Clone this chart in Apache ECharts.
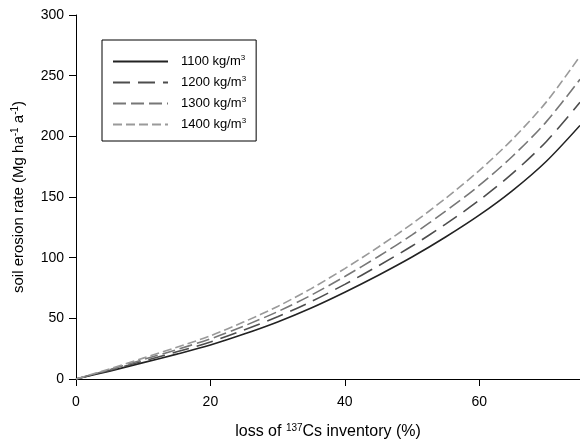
<!DOCTYPE html>
<html>
<head>
<meta charset="utf-8">
<script src="https://cdn.jsdelivr.net/npm/echarts@6/dist/echarts.min.js"></script>
<style>
html,body{margin:0;padding:0;background:#fff;}
#chart{width:580px;height:445px;}
</style>
</head>
<body>
<div id="chart"></div>
<script>
var xValues = [0, 5, 10, 15, 20, 25, 30, 35, 40, 45, 50, 55, 60, 65, 70, 75];
var seriesNames = ['1100 kg/m3', '1200 kg/m3', '1300 kg/m3', '1400 kg/m3'];
var rate1100 = [0, 6.5, 13.5, 20.5, 28, 37, 47, 58.5, 71.5, 85.5, 100.5, 117, 135, 155.5, 179.5, 209];
var rate1200 = [0, 7.1, 14.7, 22.4, 30.5, 40.4, 51.3, 63.8, 78, 93.3, 109.6, 127.6, 147.3, 169.6, 195.8, 228];
var rate1300 = [0, 7.7, 16, 24.2, 33.1, 43.7, 55.5, 69.1, 84.5, 101, 118.8, 138.3, 159.5, 183.8, 212.1, 247];
var rate1400 = [0, 8.3, 17.2, 26.1, 35.6, 47.1, 59.8, 74.5, 91, 108.8, 127.9, 148.9, 171.8, 197.9, 228.4, 266];
var yTicks = [0, 50, 100, 150, 200, 250, 300];
var xTicks = [0, 20, 40, 60];

var allRates = [rate1100, rate1200, rate1300, rate1400];
var colors = ['#222222', '#4d4d4d', '#777777', '#9a9a9a'];
var dashes = ['solid', [17, 8], [13, 5], [9, 4]];
var FONT = 'Liberation Sans, Arial, sans-serif';

function pairs(vals) {
  return xValues.map(function (x, i) { return [x, vals[i]]; });
}

var series = seriesNames.map(function (n, k) {
  return {
    name: n,
    type: 'line',
    data: pairs(allRates[k]),
    smooth: 0.3,
    symbol: 'none',
    showSymbol: false,
    lineStyle: { color: colors[k], width: 1.6, type: dashes[k] },
    itemStyle: { color: colors[k] },
    clip: true
  };
});

var chart = echarts.init(document.getElementById('chart'), null, { renderer: 'canvas' });
chart.setOption({
  animation: false,
  backgroundColor: '#fff',
  textStyle: { fontFamily: FONT },
  grid: { left: 76, top: 15, bottom: 65, right: -4.5, containLabel: false },
  legend: {
    orient: 'vertical',
    left: 102,
    top: 40,
    padding: [14, 10, 10, 10],
    itemWidth: 55,
    itemHeight: 14,
    itemGap: 7,
    borderColor: '#000',
    borderWidth: 1,
    itemStyle: { opacity: 0 },
    data: seriesNames,
    formatter: function (name) {
      return '{a|' + name.slice(0, -1) + '}{s|3}';
    },
    textStyle: {
      padding: [0, 0, 0, 8],
      rich: {
        a: { fontSize: 13, color: '#000', fontFamily: FONT },
        s: { fontSize: 8, color: '#000', padding: [0, 0, 7, 0], fontFamily: FONT }
      }
    }
  },
  xAxis: {
    type: 'value',
    min: 0,
    max: 75,
    interval: 20,
    axisLine: { show: true, lineStyle: { color: '#000', width: 1 } },
    axisTick: { show: true, inside: false, length: 7, lineStyle: { color: '#000' } },
    axisLabel: { color: '#000', fontSize: 14, margin: 16, showMaxLabel: false, fontFamily: FONT,
      formatter: function (v) { return xTicks.indexOf(v) >= 0 ? String(v) : ''; } },
    splitLine: { show: false },
    name: '{a|loss of }{s|137}{a|Cs inventory (%)}',
    nameLocation: 'middle',
    nameGap: 44,
    nameTextStyle: {
      rich: {
        a: { fontSize: 16, color: '#000', fontFamily: FONT },
        s: { fontSize: 10, color: '#000', padding: [0, 0, 8, 0], fontFamily: FONT }
      }
    }
  },
  yAxis: {
    type: 'value',
    min: 0,
    max: 300,
    interval: 50,
    axisLine: { show: true, lineStyle: { color: '#000', width: 1 } },
    axisTick: { show: true, inside: false, length: 7, lineStyle: { color: '#000' } },
    axisLabel: { color: '#000', fontSize: 14, margin: 12, fontFamily: FONT,
      formatter: function (v) { return yTicks.indexOf(v) >= 0 ? String(v) : ''; } },
    splitLine: { show: false },
    name: '{a|soil erosion rate (Mg ha}{s|-1}{a| a}{s|-1}{a|)}',
    nameLocation: 'middle',
    nameRotate: 90,
    nameGap: 48,
    nameTextStyle: {
      rich: {
        a: { fontSize: 15, color: '#000', fontFamily: FONT },
        s: { fontSize: 10, color: '#000', padding: [0, 0, 8, 0], fontFamily: FONT }
      }
    }
  },
  series: series
});
</script>
</body>
</html>
